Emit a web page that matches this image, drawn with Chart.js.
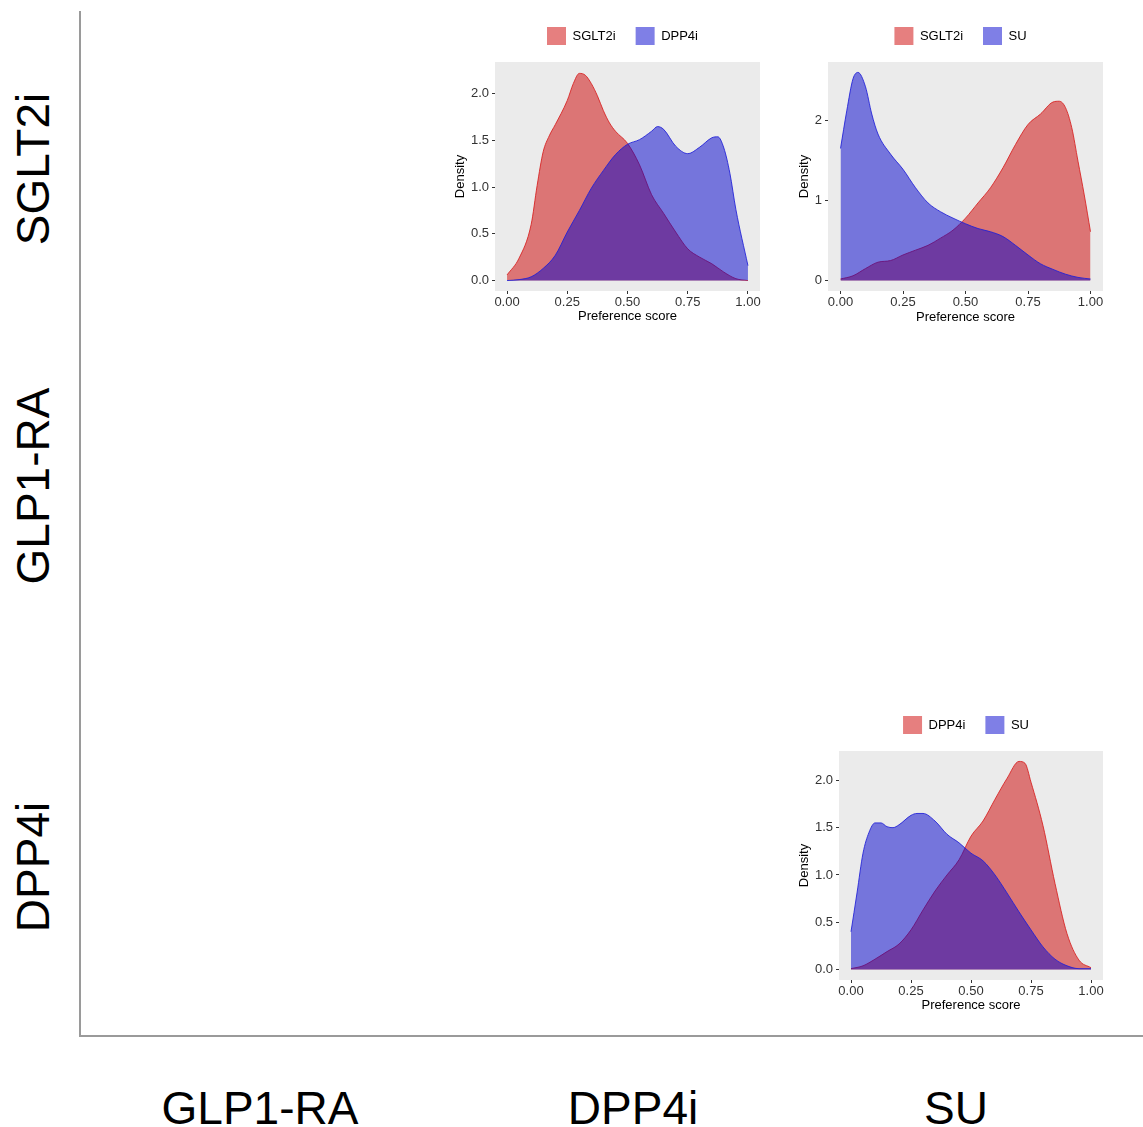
<!DOCTYPE html>
<html>
<head>
<meta charset="utf-8">
<title>Preference score densities</title>
<script src="https://cdn.jsdelivr.net/npm/chart.js@4.4.1/dist/chart.umd.min.js"></script>
<style>
  body { margin: 0; width: 1143px; height: 1127px; background: #fff; overflow: hidden;
         font-family: 'Liberation Sans', Arial, sans-serif; }
  #frame { position: absolute; left: 79px; top: 11px; width: 1062px; height: 1024px;
           border-left: 2px solid #9a9a9a; border-bottom: 2px solid #9a9a9a; }
  .panel { position: absolute; }
  .rowLab, .colLab { position: absolute; font-size: 46px; color: #000; text-align: center;
                     height: 46px; line-height: 46px; white-space: nowrap; }
  .rowLab { width: 300px; transform: rotate(-90deg); }
  .colLab { width: 300px; }
</style>
</head>
<body>
<div id="frame"></div>
<div class="panel" style="left:453px; top:7px; width:312px; height:317px;"><canvas id="sgltDpp"></canvas></div>
<div class="panel" style="left:797px; top:7px; width:311px; height:318px;"><canvas id="sgltSu"></canvas></div>
<div class="panel" style="left:797px; top:696px; width:311px; height:317px;"><canvas id="dppSu"></canvas></div>

<script>
// row / column drug names of the grid
const rowLabels = ["SGLT2i", "GLP1-RA", "DPP4i"];
const colLabels = ["GLP1-RA", "DPP4i", "SU"];

const xTicks = [0, 0.25, 0.5, 0.75, 1];

// SGLT2i vs DPP4i
const p1Names = ["SGLT2i", "DPP4i"];
const p1RedX = [0, 0.05, 0.1, 0.125, 0.15, 0.175, 0.2, 0.25, 0.275, 0.3, 0.325, 0.35, 0.375, 0.4, 0.425, 0.45, 0.5, 0.55, 0.6, 0.65, 0.7, 0.75, 0.8, 0.85, 0.9, 0.95, 1];
const p1RedY = [0.06, 0.24, 0.6, 1.02, 1.38, 1.55, 1.67, 1.93, 2.11, 2.22, 2.2, 2.11, 1.98, 1.82, 1.69, 1.6, 1.47, 1.24, 0.92, 0.72, 0.52, 0.34, 0.25, 0.18, 0.09, 0.02, 0.0];
const p1BlueX = [0, 0.05, 0.1, 0.15, 0.2, 0.25, 0.3, 0.35, 0.4, 0.45, 0.5, 0.55, 0.6, 0.625, 0.65, 0.7, 0.75, 0.8, 0.85, 0.875, 0.9, 0.925, 0.95, 1];
const p1BlueY = [0.0, 0.01, 0.04, 0.13, 0.27, 0.52, 0.75, 0.99, 1.18, 1.35, 1.46, 1.51, 1.6, 1.65, 1.62, 1.44, 1.36, 1.43, 1.53, 1.54, 1.42, 1.15, 0.76, 0.16];
const p1YTicks = [0, 0.5, 1, 1.5, 2];

// SGLT2i vs SU
const p2Names = ["SGLT2i", "SU"];
const p2RedX = [0, 0.05, 0.1, 0.15, 0.2, 0.25, 0.3, 0.35, 0.4, 0.45, 0.5, 0.55, 0.6, 0.65, 0.7, 0.75, 0.8, 0.85, 0.875, 0.9, 0.925, 0.95, 0.975, 1];
const p2RedY = [0.02, 0.06, 0.15, 0.23, 0.25, 0.32, 0.38, 0.44, 0.53, 0.63, 0.78, 0.97, 1.16, 1.41, 1.7, 1.95, 2.08, 2.23, 2.24, 2.16, 1.91, 1.49, 1.07, 0.61];
const p2BlueX = [0, 0.025, 0.05, 0.07, 0.1, 0.125, 0.15, 0.2, 0.25, 0.3, 0.35, 0.4, 0.45, 0.5, 0.55, 0.6, 0.65, 0.7, 0.75, 0.8, 0.85, 0.9, 0.95, 1];
const p2BlueY = [1.65, 2.12, 2.52, 2.6, 2.42, 2.08, 1.83, 1.58, 1.39, 1.16, 0.97, 0.86, 0.78, 0.71, 0.65, 0.61, 0.55, 0.44, 0.32, 0.21, 0.14, 0.08, 0.04, 0.02];
const p2YTicks = [0, 1, 2];

// DPP4i vs SU
const p3Names = ["DPP4i", "SU"];
const p3RedX = [0, 0.05, 0.1, 0.15, 0.2, 0.25, 0.3, 0.35, 0.4, 0.45, 0.5, 0.55, 0.6, 0.65, 0.7, 0.725, 0.75, 0.8, 0.85, 0.9, 0.95, 1];
const p3RedY = [0.01, 0.04, 0.11, 0.19, 0.27, 0.42, 0.63, 0.83, 1.0, 1.16, 1.41, 1.57, 1.8, 2.02, 2.2, 2.18, 1.98, 1.52, 0.91, 0.38, 0.1, 0.02];
const p3BlueX = [0, 0.025, 0.05, 0.075, 0.1, 0.125, 0.15, 0.175, 0.2, 0.25, 0.275, 0.3, 0.35, 0.4, 0.45, 0.5, 0.55, 0.6, 0.65, 0.7, 0.75, 0.8, 0.85, 0.9, 0.95, 1];
const p3BlueY = [0.4, 0.81, 1.23, 1.45, 1.55, 1.55, 1.51, 1.5, 1.53, 1.63, 1.65, 1.65, 1.57, 1.43, 1.34, 1.23, 1.15, 1.0, 0.81, 0.61, 0.42, 0.24, 0.11, 0.04, 0.01, 0.01];
const p3YTicks = [0, 0.5, 1, 1.5, 2];

// grid labels, placed by centre
const rowCenters = [169, 486, 867];
const colCenters = [260, 633, 956];

rowLabels.forEach((txt, i) => {
  const d = document.createElement("div");
  d.className = "rowLab";
  d.textContent = txt;
  d.style.left = (33 - 150) + "px";
  d.style.top = (rowCenters[i] - 23) + "px";
  document.body.appendChild(d);
});
colLabels.forEach((txt, i) => {
  const d = document.createElement("div");
  d.className = "colLab";
  d.textContent = txt;
  d.style.left = (colCenters[i] - 150) + "px";
  d.style.top = (1108 - 23) + "px";
  document.body.appendChild(d);
});

Chart.defaults.font.family = "'Liberation Sans', Arial, sans-serif";
Chart.defaults.font.size = 13;
Chart.defaults.color = "#333";

const RED_FILL = "rgba(205, 0, 0, 0.5)";
const RED_LINE = "rgba(215, 30, 30, 0.85)";
const BLUE_FILL = "rgba(0, 0, 205, 0.5)";
const BLUE_LINE = "rgba(30, 30, 215, 0.85)";

// grey panel like ggplot
const panelBg = {
  id: "panelBg",
  beforeDraw(chart) {
    const { ctx, chartArea: a } = chart;
    ctx.save();
    ctx.fillStyle = "#EBEBEB";
    ctx.fillRect(a.left, a.top, a.right - a.left, a.bottom - a.top);
    ctx.restore();
  }
};

// more room under the legend, and nudge it a little to the left
const legendGap = {
  id: "legendGap",
  beforeInit(chart) {
    const fit = chart.legend.fit;
    chart.legend.fit = function () {
      fit.call(this);
      this.height += 7;
    };
  },
  afterLayout(chart) {
    chart.legend.left -= 5;
    chart.legend.right -= 5;
  }
};

function toPoints(xs, ys) {
  return xs.map((x, i) => ({ x: x, y: ys[i] }));
}

function makePanel(id, names, redX, redY, blueX, blueY, yTicks, yMin, yMax, yDigits, yAxisW, xAxisH) {
  return new Chart(document.getElementById(id), {
    type: "line",
    data: {
      datasets: [
        { label: names[0], data: toPoints(redX, redY), backgroundColor: RED_FILL, borderColor: RED_LINE,
          borderWidth: 1, fill: "origin", pointRadius: 0, cubicInterpolationMode: "monotone", order: 2 },
        { label: names[1], data: toPoints(blueX, blueY), backgroundColor: BLUE_FILL, borderColor: BLUE_LINE,
          borderWidth: 1, fill: "origin", pointRadius: 0, cubicInterpolationMode: "monotone", order: 1 }
      ]
    },
    options: {
      responsive: true,
      maintainAspectRatio: false,
      animation: false,
      events: [],
      layout: { padding: { right: 5 } },
      plugins: {
        legend: {
          position: "top",
          fullSize: false,
          labels: {
            boxWidth: 19,
            boxHeight: 18,
            padding: 20,
            color: "#000",
            font: { size: 13 },
            sort: (a, b) => a.datasetIndex - b.datasetIndex,
            generateLabels: (chart) =>
              Chart.defaults.plugins.legend.labels.generateLabels(chart).map(l => ({ ...l, lineWidth: 0 }))
          }
        },
        tooltip: { enabled: false }
      },
      scales: {
        x: {
          type: "linear",
          min: -0.05,
          max: 1.05,
          afterBuildTicks: (s) => { s.ticks = xTicks.map(v => ({ value: v })); },
          afterFit: (s) => { s.height = xAxisH; },
          ticks: { color: "#333", padding: 1, autoSkip: false, maxRotation: 0, callback: (v) => v.toFixed(2) },
          grid: { drawOnChartArea: false, drawTicks: true, tickLength: 3, color: "#333" },
          border: { display: false },
          title: { display: true, text: "Preference score", color: "#000", font: { size: 13 }, padding: 0 }
        },
        y: {
          type: "linear",
          min: yMin,
          max: yMax,
          afterBuildTicks: (s) => { s.ticks = yTicks.map(v => ({ value: v })); },
          afterFit: (s) => { s.width = yAxisW; },
          ticks: { color: "#333", padding: 3, autoSkip: false, callback: (v) => v.toFixed(yDigits) },
          grid: { drawOnChartArea: false, drawTicks: true, tickLength: 3, color: "#333" },
          border: { display: false },
          title: { display: true, text: "Density", color: "#000", font: { size: 13 }, padding: 0 }
        }
      }
    },
    plugins: [panelBg, legendGap]
  });
}

const sgltDppChart = makePanel("sgltDpp", p1Names, p1RedX, p1RedY, p1BlueX, p1BlueY, p1YTicks, -0.112, 2.342, 1, 42, 33);
const sgltSuChart = makePanel("sgltSu", p2Names, p2RedX, p2RedY, p2BlueX, p2BlueY, p2YTicks, -0.13, 2.73, 0, 31, 34);
const dppSuChart = makePanel("dppSu", p3Names, p3RedX, p3RedY, p3BlueX, p3BlueY, p3YTicks, -0.11, 2.31, 1, 42, 33);
</script>
</body>
</html>
